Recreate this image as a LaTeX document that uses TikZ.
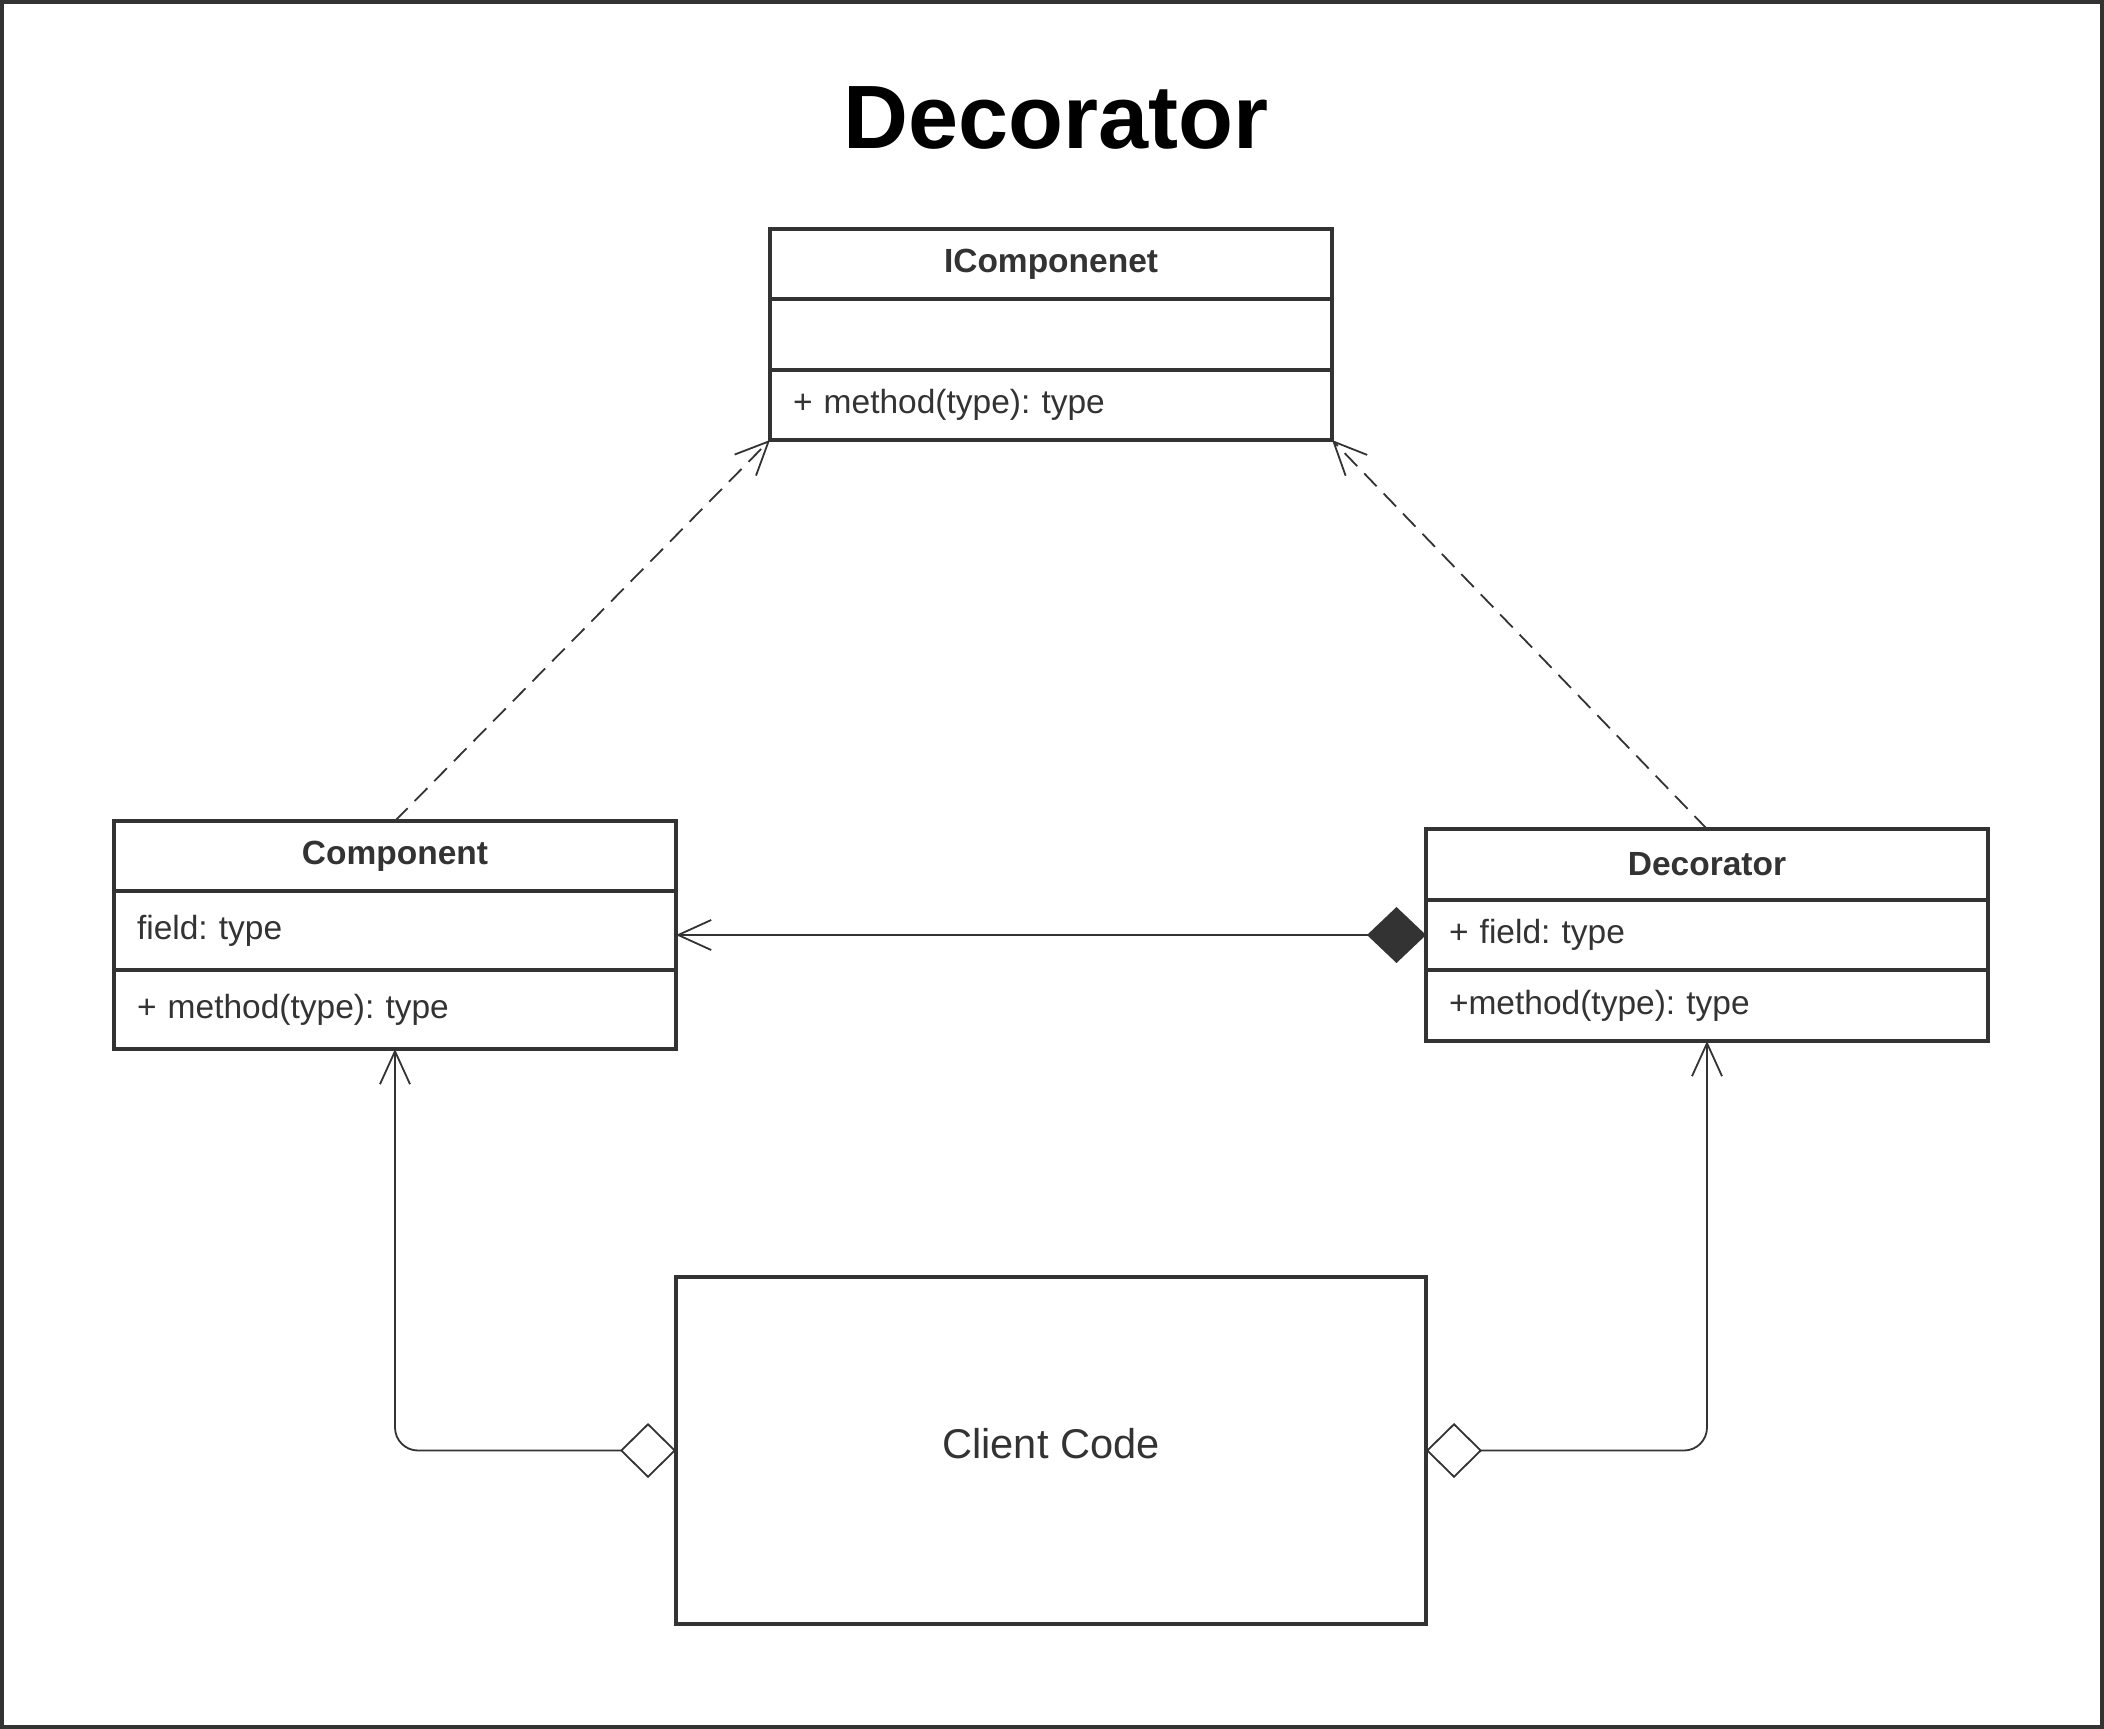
\documentclass[tikz,border=0pt]{standalone}
\usepackage{fontspec}
\setmainfont{Liberation Sans}
\usetikzlibrary{arrows.meta,positioning}
\frenchspacing

\definecolor{umlgray}{RGB}{51,51,51}
\tikzset{every picture/.style={line width=0.9pt}}
\tikzset{
  classhead/.style={draw=umlgray, line width=1.6pt, outer sep=0pt, inner xsep=11.5pt, inner ysep=0pt,
    text width=258pt, minimum height=35pt, align=center, text=umlgray,
    font=\fontsize{16.75}{20}\selectfont\bfseries},
  classrow/.style={classhead, align=left, font=\fontsize{16.75}{20}\selectfont},
  realize/.style={draw=umlgray, dash pattern={on 9pt off 5pt},
    -{Straight Barb[length=16.5pt,width=15pt]}},
  compose/.style={draw=umlgray, {Diamond[length=29.5pt,width=28pt,fill=umlgray]}-{Straight Barb[length=16.5pt,width=15pt]}},
  aggregate/.style={draw=umlgray, rounded corners=11.5pt,
    {Diamond[open,length=28pt,width=27.5pt,fill=white,line width=0.9pt]}-{Straight Barb[length=16.5pt,width=15pt]}}
}

\begin{document}
\begin{tikzpicture}[x=0.5pt,y=0.5pt,yscale=-1,xscale=1]
\useasboundingbox (0,0) rectangle (2104,1729);

%Shape: Rectangle [frame]
\draw [umlgray][line width=3.7pt] (0,0) rectangle (2104,1729) ;

% Text Node [title]
\node (title) at (1056,148) [anchor=base][font=\fontsize{45}{54}\selectfont\bfseries] {Decorator};

%Shape: Class [IComponenet]
\node (icomp-head) at (770,229) [classhead, anchor=north west] {IComponenet};
\node (icomp-field) [classrow, minimum height=35.5pt, below=0pt of icomp-head] {};
\node (icomp-meth) [classrow, below=0pt of icomp-field] {+ method(type): type};

%Shape: Class [Component]
\node (comp-head) at (114,821) [classhead, anchor=north west] {Component};
\node (comp-field) [classrow, minimum height=39.5pt, below=0pt of comp-head] {field: type};
\node (comp-meth) [classrow, minimum height=39.5pt, below=0pt of comp-field] {+ method(type): type};

%Shape: Class [Decorator]
\node (deco-head) at (1426,829) [classhead, minimum height=35.5pt, anchor=north west] {Decorator};
\node (deco-field) [classrow, below=0pt of deco-head] {+ field: type};
\node (deco-meth) [classrow, minimum height=35.5pt, below=0pt of deco-field] {+method(type): type};

%Shape: Rectangle [client]
\node (client) at (1051,1450.5) [draw=umlgray, line width=1.6pt, outer sep=0pt, minimum width=375pt, minimum height=173.5pt, text depth=7pt, text=umlgray, font=\fontsize{20.8}{25}\selectfont] {Client Code};

%Straight Lines [realization]
\draw [realize] (comp-head.north) -- (icomp-meth.south west) ;
\draw [realize] (deco-head.north) -- (icomp-meth.south east) ;

%Straight Lines [composition]
\draw [compose] (deco-field.west) -- (deco-field.west -| comp-field.east) ;

%Elbow Lines [aggregation]
\draw [aggregate] (client.west) -| (comp-meth.south) ;
\draw [aggregate] (client.east) -| (deco-meth.south) ;

\end{tikzpicture}
\end{document}
